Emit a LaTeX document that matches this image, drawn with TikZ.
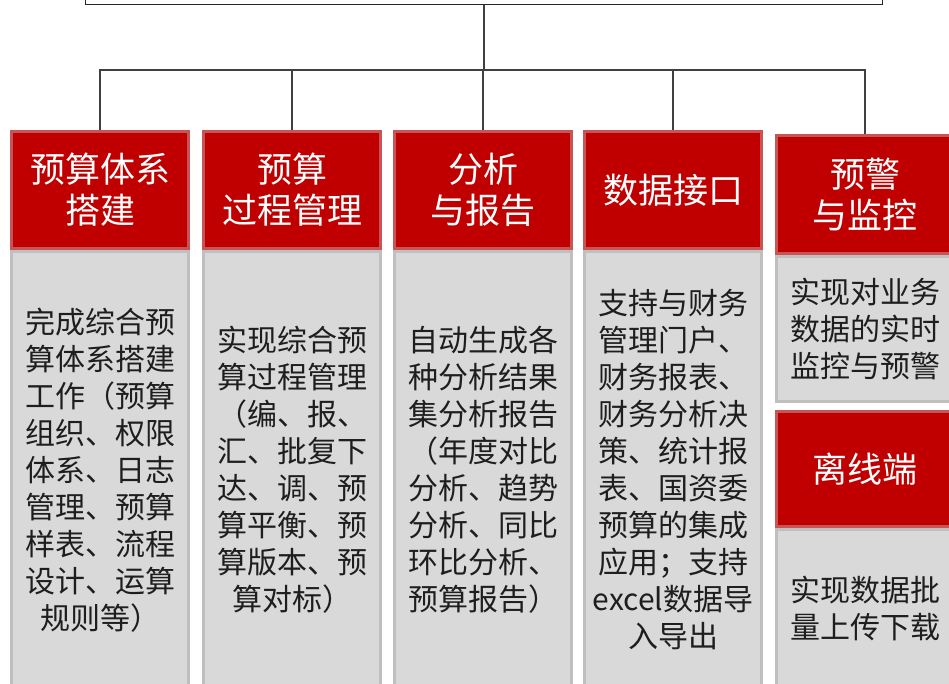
\documentclass[tikz,border=0pt]{standalone}
\usepackage{fontspec}
\setmainfont{Noto Sans CJK SC}
\usetikzlibrary{positioning}
\definecolor{hdred}{HTML}{C00000}
\definecolor{hdedge}{HTML}{C85555}
\definecolor{bdgray}{HTML}{D9D9D9}
\definecolor{bdedge}{HTML}{BFBFBF}
\definecolor{txtgray}{HTML}{1E1E1E}
\definecolor{wire}{HTML}{404040}
\tikzset{
  head/.style={fill=hdred,draw=hdedge,line width=3pt,text=white,align=center,
    minimum width=177pt,font=\fontsize{35}{41}\selectfont},
  body/.style={fill=bdgray,draw=bdedge,line width=3pt,text=txtgray,align=center,
    minimum width=177pt,font=\fontsize{30}{37}\selectfont},
  link/.style={draw=wire,line width=1.5pt}
}
\begin{document}
\begin{tikzpicture}[x=1pt,y=-1pt]
  \clip (0,0) rectangle (949,683);
  \fill[white] (0,0) rectangle (949,683);
  % top box (cut off)
  \node[draw=black!85,line width=1.5pt,minimum width=797pt,minimum height=40pt,anchor=south] (top) at (484,5) {};
  \coordinate (bus) at (484,70);
  % columns
  \node[head,minimum height=117pt] (h1) at (100,190) {预算体系\\搭建};
  \node[body,minimum height=437pt,below=0pt of h1] (b1) {完成综合预\\算体系搭建\\工作（预算\\组织、权限\\体系、日志\\管理、预算\\样表、流程\\设计、运算\\规则等）};
  \node[head,minimum height=117pt] (h2) at (292,190) {预算\\过程管理};
  \node[body,minimum height=437pt,below=0pt of h2] (b2) {实现综合预\\算过程管理\\（编、报、\\汇、批复下\\达、调、预\\算平衡、预\\算版本、预\\算对标）};
  \node[head,minimum height=117pt] (h3) at (483,190) {分析\\与报告};
  \node[body,minimum height=437pt,below=0pt of h3] (b3) {自动生成各\\种分析结果\\集分析报告\\（年度对比\\分析、趋势\\分析、同比\\环比分析、\\预算报告）};
  \node[head,minimum height=117pt] (h4) at (673,190) {数据接口};
  \node[body,minimum height=437pt,below=0pt of h4] (b4) {支持与财务\\管理门户、\\财务报表、\\财务分析决\\策、统计报\\表、国资委\\预算的集成\\应用；支持\\excel数据导\\入导出};
  \node[head,minimum height=118pt] (h5) at (865,194.5) {预警\\与监控};
  \node[body,minimum height=145pt,below=0pt of h5] (b5) {实现对业务\\数据的实时\\监控与预警};
  \node[head,minimum height=115pt,below=7pt of b5] (h6) {离线端};
  \node[body,minimum height=159pt,below=0pt of h6] (b6) {实现数据批\\量上传下载};
  % tree lines
  \draw[link] (top.south) -- (bus);
  \foreach \n in {h1,h2,h3,h4,h5}
    \draw[link] (bus) -| (\n.north);
\end{tikzpicture}
\end{document}
